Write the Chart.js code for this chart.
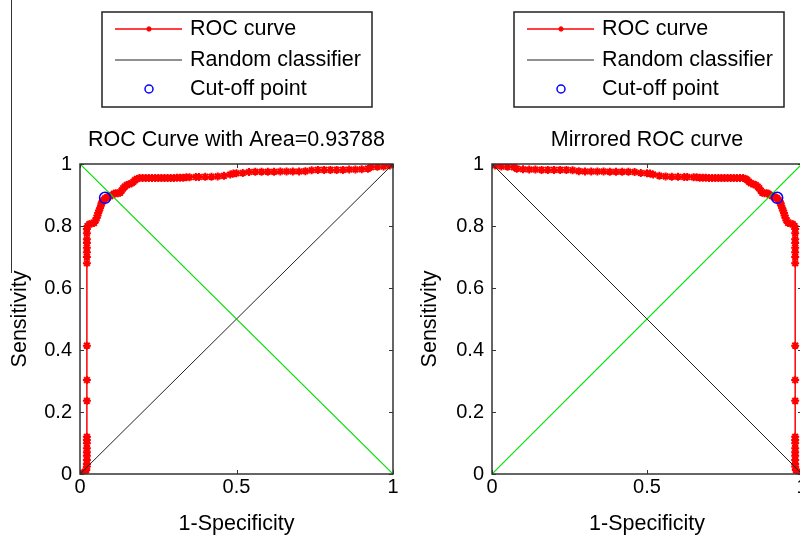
<!DOCTYPE html>
<html>
<head>
<meta charset="utf-8">
<title>ROC curve</title>
<script src="https://cdn.jsdelivr.net/npm/chart.js@4.4.0/dist/chart.umd.min.js"></script>
<style>
    html, body { margin: 0; padding: 0; background: #fff; overflow: hidden; }
    body { width: 800px; height: 535px; position: relative; }
    .panel { position: absolute; top: 0; width: 400px; height: 535px; }
    #leftPanel { left: 0; }
    #rightPanel { left: 410px; }
    .stray-line { position: absolute; left: 11px; top: 0; width: 0; height: 273px; border-left: 1px solid #333; }
</style>
</head>
<body>
<div class="stray-line"></div>
<div class="panel" id="leftPanel"><canvas id="rocChart" width="400" height="535"></canvas></div>
<div class="panel" id="rightPanel"><canvas id="mirrorChart" width="400" height="535"></canvas></div>
<script>
// ROC curve samples (1-specificity, sensitivity)
const FPR = [
    0, 0.005, 0.01, 0.015, 0.02, 0.022, 0.022, 0.022, 0.022, 0.022,
    0.022, 0.022, 0.022, 0.022, 0.022, 0.022, 0.022, 0.022, 0.022, 0.022,
    0.022, 0.022, 0.022, 0.022, 0.022, 0.024, 0.03, 0.037, 0.045, 0.05,
    0.053, 0.056, 0.058, 0.061, 0.064, 0.067, 0.069, 0.072, 0.076, 0.08,
    0.085, 0.09, 0.096, 0.103, 0.108, 0.114, 0.121, 0.128, 0.133, 0.138,
    0.143, 0.149, 0.157, 0.165, 0.171, 0.176, 0.182, 0.19, 0.2, 0.21,
    0.22, 0.23, 0.24, 0.25, 0.26, 0.27, 0.28, 0.29, 0.3, 0.31,
    0.32, 0.33, 0.34, 0.35, 0.37, 0.38, 0.4, 0.42, 0.44, 0.46,
    0.48, 0.49, 0.5, 0.52, 0.54, 0.56, 0.58, 0.6, 0.62, 0.64,
    0.66, 0.68, 0.7, 0.72, 0.74, 0.76, 0.78, 0.8, 0.82, 0.84,
    0.86, 0.88, 0.9, 0.92, 0.93, 0.95, 0.97, 0.99, 1
];
const TPR = [
    0, 0, 0.003, 0.007, 0.013, 0.024, 0.032, 0.045, 0.059, 0.07,
    0.083, 0.099, 0.11, 0.12, 0.236, 0.303, 0.414, 0.68, 0.7, 0.715,
    0.73, 0.745, 0.757, 0.777, 0.79, 0.8, 0.806, 0.808, 0.81, 0.818,
    0.826, 0.834, 0.842, 0.85, 0.857, 0.866, 0.873, 0.879, 0.884, 0.889,
    0.892, 0.894, 0.896, 0.9, 0.904, 0.906, 0.906, 0.907, 0.914, 0.922,
    0.927, 0.932, 0.935, 0.938, 0.943, 0.948, 0.952, 0.955, 0.955, 0.955,
    0.955, 0.955, 0.955, 0.955, 0.955, 0.955, 0.955, 0.955, 0.955, 0.956,
    0.956, 0.956, 0.957, 0.957, 0.958, 0.958, 0.959, 0.959, 0.96, 0.962,
    0.966, 0.969, 0.97, 0.971, 0.974, 0.975, 0.975, 0.975, 0.975, 0.976,
    0.976, 0.976, 0.976, 0.977, 0.98, 0.981, 0.981, 0.981, 0.981, 0.981,
    0.982, 0.982, 0.983, 0.985, 0.99, 0.991, 0.992, 0.995, 1
];

// Cut-off point
const CUTOFF_FPR = [0.08];
const CUTOFF_TPR = [0.891];

// Reference lines
const RISING_X = [0, 1];
const RISING_Y = [0, 1];
const FALLING_X = [0, 1];
const FALLING_Y = [1, 0];

// Ticks
const X_TICKS = [0, 0.5, 1];
const Y_TICKS = [0, 0.2, 0.4, 0.6, 0.8, 1];

const LEGEND_LABELS = ['ROC curve', 'Random classifier', 'Cut-off point'];
const TITLES = ['ROC Curve with Area=0.93788', 'Mirrored ROC curve'];
const X_TITLE = '1-Specificity';
const Y_TITLE = 'Sensitivity';

const FONT_FAMILY = '"Liberation Sans", Arial, Helvetica, sans-serif';
const AXIS_COLOR = '#333';
const GREEN = 'rgb(0, 220, 0)';

Chart.defaults.font.family = FONT_FAMILY;
Chart.defaults.color = '#000';

function toPoints(xs, ys) {
    return xs.map((x, i) => ({ x: x, y: ys[i] }));
}

// MATLAB prints 1 and 0.5, not 1.0
function tickText(value) {
    return String(Math.round(value * 100) / 100);
}

/**
 * MATLAB style axes box, inward ticks, title and boxed legend
 */
const matlabFrame = {
    id: 'matlabFrame',
    afterDraw(chart, args, opts) {
        const { ctx, chartArea: a, scales } = chart;
        ctx.save();

        // box
        ctx.strokeStyle = AXIS_COLOR;
        ctx.lineWidth = 1.5;
        ctx.strokeRect(a.left, a.top, a.right - a.left, a.bottom - a.top);

        // inward ticks on all four sides
        ctx.lineWidth = 1;
        ctx.beginPath();
        X_TICKS.forEach(v => {
            const x = Math.round(scales.x.getPixelForValue(v)) + 0.5;
            ctx.moveTo(x, a.bottom); ctx.lineTo(x, a.bottom - 4);
            ctx.moveTo(x, a.top); ctx.lineTo(x, a.top + 4);
        });
        Y_TICKS.forEach(v => {
            const y = Math.round(scales.y.getPixelForValue(v)) + 0.5;
            ctx.moveTo(a.left, y); ctx.lineTo(a.left + 4, y);
            ctx.moveTo(a.right, y); ctx.lineTo(a.right - 4, y);
        });
        ctx.stroke();

        // title centred over the axes
        ctx.fillStyle = '#000';
        ctx.font = '21.5px ' + FONT_FAMILY;
        ctx.textAlign = 'center';
        ctx.textBaseline = 'middle';
        ctx.fillText(opts.title, (a.left + a.right) / 2, 140);

        // legend box
        const bx = a.left + 22, by = 12, bw = 270, bh = 95;
        ctx.fillStyle = '#fff';
        ctx.fillRect(bx, by, bw, bh);
        ctx.strokeStyle = '#222';
        ctx.lineWidth = 1.5;
        ctx.strokeRect(bx, by, bw, bh);

        const rows = [29, 60, 89];
        const entries = chart.data.datasets.filter(ds => LEGEND_LABELS.includes(ds.label));
        entries.forEach((ds, i) => {
            const y = rows[i];
            if (ds.showLine !== false) {
                ctx.strokeStyle = ds.borderColor;
                ctx.lineWidth = ds.borderWidth;
                ctx.beginPath();
                ctx.moveTo(bx + 13, y);
                ctx.lineTo(bx + 80, y);
                ctx.stroke();
            }
            if (ds.pointRadius > 0) {
                ctx.strokeStyle = ds.pointBorderColor;
                ctx.fillStyle = ds.pointBackgroundColor;
                ctx.lineWidth = ds.pointBorderWidth;
                Chart.helpers.drawPoint(ctx, {
                    pointStyle: ds.pointStyle,
                    radius: ds.label === 'ROC curve' ? 2.5 : ds.pointRadius - 1.5,
                    borderWidth: ds.pointBorderWidth
                }, bx + 47, y);
            }
            ctx.fillStyle = '#000';
            ctx.font = '21.5px ' + FONT_FAMILY;
            ctx.textAlign = 'left';
            ctx.textBaseline = 'middle';
            ctx.fillText(ds.label, bx + 88, y);
        });

        ctx.restore();
    }
};

/**
 * Build the datasets for one panel
 */
function buildDatasets(mirrored) {
    const rocX = mirrored ? FPR.map(v => 1 - v) : FPR;
    const cutX = mirrored ? CUTOFF_FPR.map(v => 1 - v) : CUTOFF_FPR;
    const randomLine = mirrored ? toPoints(FALLING_X, FALLING_Y) : toPoints(RISING_X, RISING_Y);
    const greenLine = mirrored ? toPoints(RISING_X, RISING_Y) : toPoints(FALLING_X, FALLING_Y);

    return [
        {
            label: 'ROC curve',
            data: toPoints(rocX, TPR),
            showLine: true,
            borderColor: '#ff0000',
            borderWidth: 1.5,
            pointStyle: 'star',
            pointRadius: 4,
            pointBorderWidth: 2,
            pointBorderColor: '#ff0000',
            pointBackgroundColor: '#ff0000',
            order: 3
        },
        {
            label: 'Random classifier',
            data: randomLine,
            showLine: true,
            borderColor: '#222',
            borderWidth: 1,
            pointRadius: 0,
            order: 2
        },
        {
            label: 'Cut-off point',
            data: toPoints(cutX, CUTOFF_TPR),
            showLine: false,
            pointStyle: 'circle',
            pointRadius: 5.5,
            pointBorderWidth: 1.5,
            pointBorderColor: '#0000ff',
            pointBackgroundColor: 'rgba(0,0,0,0)',
            order: 0
        },
        {
            label: 'threshold line',
            data: greenLine,
            showLine: true,
            borderColor: GREEN,
            backgroundColor: GREEN,
            borderWidth: 1.2,
            pointRadius: 0,
            order: 1
        }
    ];
}

function buildOptions(title, yWidth, rightPad) {
    return {
        responsive: false,
        animation: false,
        layout: { padding: { top: 164, right: rightPad, left: 0, bottom: 0 } },
        plugins: {
            legend: { display: false },
            title: { display: false },
            tooltip: { enabled: false },
            matlabFrame: { title: title }
        },
        scales: {
            x: {
                type: 'linear',
                min: 0,
                max: 1,
                afterBuildTicks: s => { s.ticks = X_TICKS.map(v => ({ value: v })); },
                afterFit: s => { s.height = 61; },
                grid: { display: false, drawTicks: false },
                border: { display: false },
                ticks: { padding: 1, color: '#000', maxRotation: 0, font: { size: 20 }, callback: tickText },
                title: { display: true, text: X_TITLE, color: '#000', padding: { top: 0, bottom: -2 }, font: { size: 21.5 } }
            },
            y: {
                type: 'linear',
                min: 0,
                max: 1,
                afterBuildTicks: s => { s.ticks = Y_TICKS.map(v => ({ value: v })); },
                afterFit: s => { s.width = yWidth; },
                grid: { display: false, drawTicks: false },
                border: { display: false },
                ticks: { padding: 8, color: '#000', font: { size: 20 }, callback: tickText },
                title: { display: true, text: Y_TITLE, color: '#000', padding: { top: 7, bottom: 0 }, font: { size: 21.5 } }
            }
        }
    };
}

function init() {
    new Chart(document.getElementById('rocChart'), {
        type: 'scatter',
        data: { datasets: buildDatasets(false) },
        options: buildOptions(TITLES[0], 80, 6),
        plugins: [matlabFrame]
    });

    new Chart(document.getElementById('mirrorChart'), {
        type: 'scatter',
        data: { datasets: buildDatasets(true) },
        options: buildOptions(TITLES[1], 82, 8),
        plugins: [matlabFrame]
    });
}

document.addEventListener('DOMContentLoaded', init);
</script>
</body>
</html>
